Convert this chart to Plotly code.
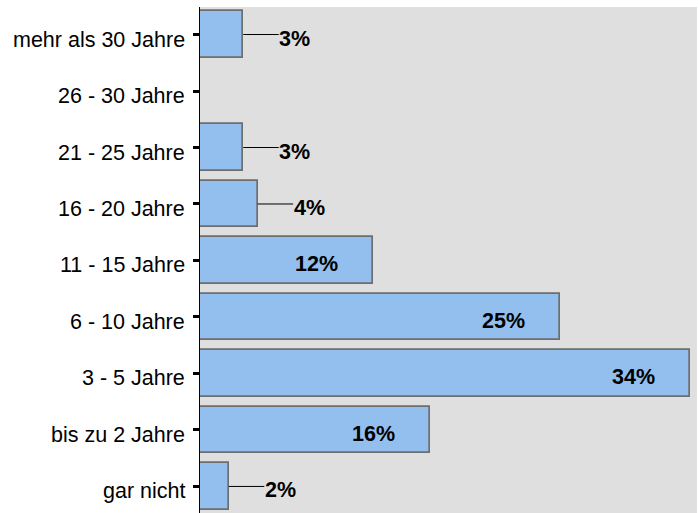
import plotly.graph_objects as go

# Dauer-Kategorien (von oben nach unten) und Anteile in Prozent
categories = [
    "mehr als 30 Jahre",
    "26 - 30 Jahre",
    "21 - 25 Jahre",
    "16 - 20 Jahre",
    "11 - 15 Jahre",
    "6 - 10 Jahre",
    "3 - 5 Jahre",
    "bis zu 2 Jahre",
    "gar nicht",
]
values = [3, 0, 3, 4, 12, 25, 34, 16, 2]

FONT = "Liberation Sans, Arial, sans-serif"
positions = list(range(len(categories)))

fig = go.Figure(
    go.Bar(
        x=values,
        y=positions,
        orientation="h",
        width=0.83,
        marker=dict(color="#93BFEE", line=dict(color="#6E6E6E", width=1.7)),
        hoverinfo="skip",
    )
)

annotations = []

# Kategorienamen links neben den Ticks (leicht unter die Tickmitte gesetzt)
for pos, cat in zip(positions, categories):
    annotations.append(dict(
        x=0, y=pos, xref="paper", yref="y", text=cat,
        showarrow=False, xanchor="right", xshift=-13, yshift=-5,
        font=dict(family=FONT, size=21.5, color="#000000"),
    ))

# Wertebeschriftungen: große Balken innen, kleine außen mit Führungslinie
for pos, val in zip(positions, values):
    if val <= 0:
        continue
    label = f"<b>{val}%</b>"
    font = dict(family=FONT, size=21.5, color="#000000")
    if val >= 10:
        annotations.append(dict(
            x=val, y=pos, xref="x", yref="y", text=label,
            showarrow=False, xanchor="right", xshift=-33, yshift=-4,
            font=font,
        ))
    else:
        # Führungslinie vom Balkenende bis zur Beschriftung
        annotations.append(dict(
            x=val, y=pos, xref="x", yref="y", text="",
            showarrow=True, arrowhead=0, arrowwidth=1, arrowcolor="#000000",
            ax=37, ay=0, standoff=0, startstandoff=0,
        ))
        annotations.append(dict(
            x=val, y=pos, xref="x", yref="y", text=label,
            showarrow=False, xanchor="left", xshift=34, yshift=-4,
            font=font,
        ))

fig.update_layout(
    width=698,
    height=513,
    margin=dict(l=200, r=1, t=7, b=0, pad=0, autoexpand=False),
    paper_bgcolor="#FFFFFF",
    plot_bgcolor="#DFDFDF",
    showlegend=False,
    bargap=0,
    annotations=annotations,
    xaxis=dict(
        range=[0, 34.5],
        showgrid=False, zeroline=False, showticklabels=False,
        ticks="", showline=False, fixedrange=True, automargin=False,
    ),
    yaxis=dict(
        range=[8.47, -0.487],
        tickmode="array",
        tickvals=positions,
        ticks="outside", ticklen=6, tickwidth=3, tickcolor="#000000",
        showticklabels=False,
        showline=True, linecolor="#000000", linewidth=1,
        showgrid=False, zeroline=False,
        automargin=False,
        fixedrange=True,
    ),
)

fig.write_html("out.html")
